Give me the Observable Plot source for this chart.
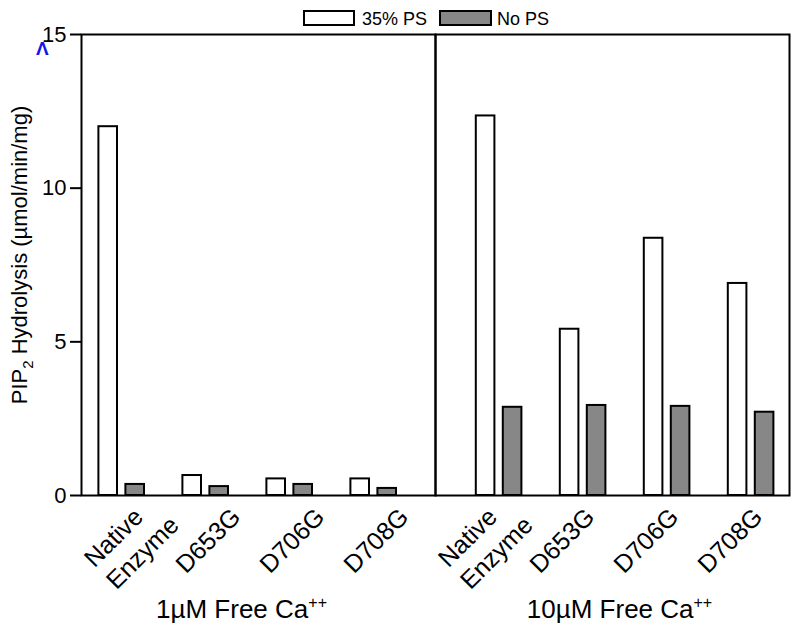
<!DOCTYPE html>
<html>
<head>
<meta charset="utf-8">
<script src="https://cdn.jsdelivr.net/npm/d3@7"></script>
<script src="https://cdn.jsdelivr.net/npm/@observablehq/plot@0.6"></script>
<style>
  body { margin: 0; background: #fff; font-family: "Liberation Sans", Arial, sans-serif; }
  #wrap { position: relative; width: 800px; height: 633px; overflow: hidden; }
  #legend { position: relative; height: 30px; width: 800px; font-size: 18px; line-height: 18px; color: #000; z-index: 1; }
  .sw { position: absolute; top: 10px; height: 16px; box-sizing: border-box; border: 2px solid #000; }
  .lt { position: absolute; top: 10px; white-space: nowrap; }
  #chart svg { overflow: visible; }
  #caret { position: absolute; left: 36px; top: 39px; font-size: 19px; line-height: 19px; font-weight: bold; color: #1515e6; }
</style>
</head>
<body>
<div id="wrap">
  <div id="legend"></div>
  <div id="chart"></div>
  <div id="caret">Λ</div>
</div>
<script>
// ---- data ----
const mutants = ["Native\nEnzyme", "D653G", "D706G", "D708G"];
const concentrations = ["1µM", "10µM"];
const seriesNames = ["35% PS", "No PS"];
const ps35_1uM  = [12.0, 0.65, 0.54, 0.54];
const noPS_1uM  = [0.36, 0.29, 0.36, 0.23];
const ps35_10uM = [12.35, 5.41, 8.37, 6.9];
const noPS_10uM = [2.87, 2.93, 2.90, 2.71];
const yTicks = [0, 5, 10, 15];
const panelTitles = ["1µM Free Ca++", "10µM Free Ca++"];
const yLabel = "PIP2 Hydrolysis (µmol/min/mg)";

// ---- table ----
const rows = [];
concentrations.forEach((c, i) => mutants.forEach((m, j) => rows.push({
  conc: c, mutant: m,
  ps: i === 0 ? ps35_1uM[j] : ps35_10uM[j],
  nops: i === 0 ? noPS_1uM[j] : noPS_10uM[j]
})));

const GRAY = "#878787";
const panelShift = {"1µM": -10.8, "10µM": 12.6};
const titleShift = {"1µM": -17, "10µM": 7};
const seriesShift = [-13.5, 13.5];
const barInset = 11.7;

const marks = [];
for (const c of concentrations) {
  const d = rows.filter(r => r.conc === c);
  marks.push(Plot.barY(d, {fx: "conc", x: "mutant", y: "ps", fill: "white", stroke: "black", strokeWidth: 2,
    insetLeft: barInset, insetRight: barInset, dx: panelShift[c] + seriesShift[0]}));
  marks.push(Plot.barY(d, {fx: "conc", x: "mutant", y: "nops", fill: GRAY, stroke: "black", strokeWidth: 2,
    insetLeft: barInset, insetRight: barInset, dx: panelShift[c] + seriesShift[1]}));
  marks.push(Plot.text(concentrations.filter(k => k === c).map((k) => ({conc: k, t: panelTitles[concentrations.indexOf(k)]})),
    {fx: "conc", text: "t", frameAnchor: "bottom", lineAnchor: "bottom", dy: 122, dx: titleShift[c], fontSize: 26}));
}
// rotated category labels
marks.push(Plot.text(rows.filter(r => r.mutant !== mutants[0]), {fx: "conc", x: "mutant", text: "mutant",
  frameAnchor: "bottom", rotate: -45, textAnchor: "end", lineAnchor: "bottom", dx: 25.5, dy: 23, fontSize: 25}));
marks.push(Plot.text(rows.filter(r => r.mutant === mutants[0]), {fx: "conc", x: "mutant", text: "mutant",
  frameAnchor: "bottom", rotate: -45, textAnchor: "start", lineAnchor: "bottom", lineHeight: 1.24, dx: -16, dy: 95, fontSize: 25}));
// y label
marks.push(Plot.text([{conc: concentrations[0], t: yLabel}], {fx: "conc", text: "t", frameAnchor: "left",
  rotate: -90, textAnchor: "middle", lineAnchor: "bottom", dx: -55, dy: -10, fontSize: 22}));
marks.push(Plot.frame({stroke: "black", strokeWidth: 2}));
marks.push(Plot.axisY(yTicks, {tickSize: 11, tickPadding: 4, fontSize: 22, strokeWidth: 2, label: null, facetAnchor: "left"}));

const chart = Plot.plot({
  width: 800, height: 603,
  marginLeft: 80, marginRight: 11, marginTop: 4, marginBottom: 138,
  style: {fontFamily: "'Liberation Sans', Arial, sans-serif", fontSize: "22px", color: "black", background: "white", overflow: "visible"},
  fx: {domain: concentrations, padding: 0, axis: null},
  x: {domain: mutants, paddingInner: 0.5, paddingOuter: 0.338, align: 0.5, axis: null},
  y: {domain: [0, 15], axis: null},
  marks
});
document.getElementById("chart").appendChild(chart);

// superscripts / subscripts
chart.querySelectorAll("text").forEach(t => {
  if (t.children.length) return;
  const s = t.textContent;
  if (s.endsWith("Ca++")) {
    t.textContent = s.slice(0, -2);
    const sp = document.createElementNS("http://www.w3.org/2000/svg", "tspan");
    sp.setAttribute("dy", "-10"); sp.setAttribute("font-size", "16");
    sp.textContent = "++";
    t.appendChild(sp);
  } else if (s === yLabel) {
    t.textContent = "PIP";
    const sub = document.createElementNS("http://www.w3.org/2000/svg", "tspan");
    sub.setAttribute("dy", "6"); sub.setAttribute("font-size", "15"); sub.textContent = "2";
    const rest = document.createElementNS("http://www.w3.org/2000/svg", "tspan");
    rest.setAttribute("dy", "-6"); rest.textContent = " Hydrolysis (µmol/min/mg)";
    t.appendChild(sub); t.appendChild(rest);
  }
});

// legend
const legend = document.getElementById("legend");
const legendItems = [
  {name: seriesNames[0], fill: "white", sw: 303, w: 52, tx: 362},
  {name: seriesNames[1], fill: GRAY, sw: 439, w: 53, tx: 497}
];
legendItems.forEach(it => {
  const b = document.createElement("div");
  b.className = "sw"; b.style.left = it.sw + "px"; b.style.width = it.w + "px"; b.style.background = it.fill;
  const l = document.createElement("div");
  l.className = "lt"; l.style.left = it.tx + "px"; l.textContent = it.name;
  legend.appendChild(b); legend.appendChild(l);
});
</script>
</body>
</html>
